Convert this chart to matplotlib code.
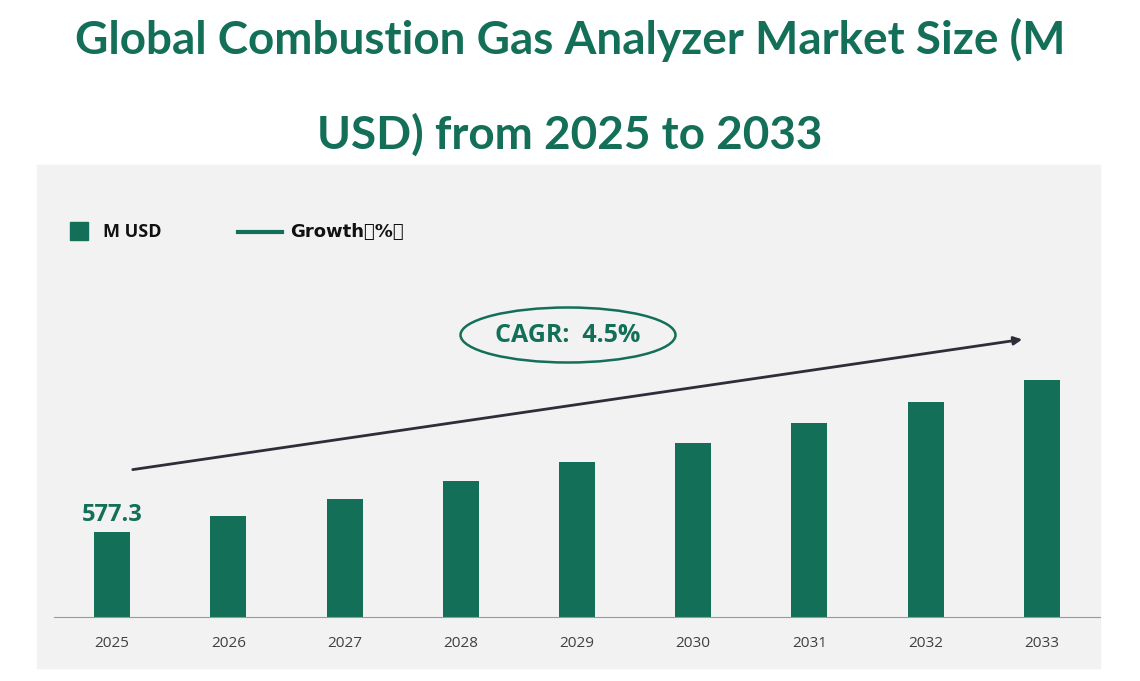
import matplotlib
matplotlib.use("Agg")
import matplotlib.pyplot as plt
from matplotlib.patches import Ellipse, Rectangle

GREEN = "#136f57"
PANEL = "#f2f2f2"

years = ["2025", "2026", "2027", "2028", "2029", "2030", "2031", "2032", "2033"]
market = [577.3, 603.3, 630.5, 658.8, 688.5, 719.5, 751.9, 785.7, 821.0]
first_label = "577.3"
cagr_text = "CAGR:  4.5%"

W, H = 1140, 681
fig = plt.figure(figsize=(W / 100, H / 100), dpi=100)


def fx(px):
    return px / W


def fy(py):
    return 1 - py / H


# grey panel behind the chart
fig.patches.append(Rectangle((fx(37), fy(668)), fx(1100) - fx(37), fy(165) - fy(668),
                             transform=fig.transFigure, color=PANEL, zorder=-5))

fig.text(0.5, fy(40), "Global Combustion Gas Analyzer Market Size (M", ha="center", va="center",
         fontsize=33, fontweight="bold", color=GREEN, family="Lato")
fig.text(0.5, fy(135), "USD) from 2025 to 2033", ha="center", va="center",
         fontsize=33, fontweight="bold", color=GREEN, family="Lato")

ax = fig.add_axes([fx(54), fy(617), fx(1100) - fx(54), fy(185) - fy(617)])
ax.set_zorder(2)
ax.set_facecolor("none")
x = range(len(years))
ax.bar(x, market, width=0.31, color=GREEN, zorder=2)
ax.set_xlim(-0.5, len(years) - 0.5)
ax.set_ylim(441, 1133)
ax.set_xticks(list(x))
ax.set_xticklabels(years, fontsize=11, color="#404040", family="Open Sans")
ax.tick_params(axis="x", length=0, pad=14)
ax.set_yticks([])
for s in ["top", "right", "left"]:
    ax.spines[s].set_visible(False)
ax.spines["bottom"].set_color("#999999")

ax.text(0, market[0] + 8, first_label, ha="center", va="bottom", fontsize=17,
        fontweight="bold", color=GREEN, family="Open Sans")

# trend arrow and CAGR bubble
fig.add_artist(matplotlib.patches.FancyArrowPatch(
    (fx(130), fy(470)), (fx(1025), fy(339)), transform=fig.transFigure,
    arrowstyle="-|>", mutation_scale=12, color="#2e2e3a", linewidth=2, zorder=5))
fig.add_artist(Ellipse((fx(568), fy(335)), fx(215), 55 / H, transform=fig.transFigure,
                       facecolor=PANEL, edgecolor=GREEN, linewidth=1.8, zorder=6))
fig.text(fx(568), fy(335), cagr_text, ha="center", va="center", fontsize=18,
         fontweight="bold", color=GREEN, family="Open Sans", zorder=7)

# legend
fig.patches.append(Rectangle((fx(70), fy(240)), fx(18), 18 / H, transform=fig.transFigure,
                             color=GREEN, zorder=5))
fig.text(fx(103), fy(232), "M USD", va="center", fontsize=13, fontweight="bold",
         color="#111111", family="Open Sans")
fig.add_artist(matplotlib.lines.Line2D([fx(238), fx(282)], [fy(232), fy(232)],
                                       transform=fig.transFigure, color=GREEN, linewidth=3))
fig.text(fx(290), fy(232), "Growth（%）", va="center", fontsize=13, fontweight="bold",
         color="#111111", family="Noto Sans CJK SC")

fig.savefig("out.png", dpi=100)
